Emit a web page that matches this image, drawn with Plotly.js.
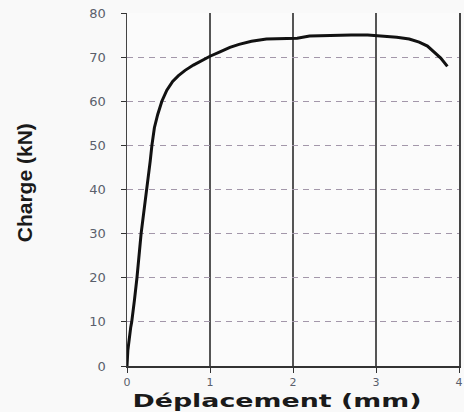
<!DOCTYPE html>
<html>
<head>
<meta charset="utf-8">
<script src="https://cdn.plot.ly/plotly-3.0.1.min.js"></script>
<style>
  html, body { margin: 0; padding: 0; background: #f9f9f9; }
  #chart { width: 464px; height: 412px; }
</style>
</head>
<body>
<div id="chart"></div>
<script>
// Data (load–displacement curve)
const deplacement = [0, 0.01, 0.045, 0.057, 0.09, 0.12, 0.17, 0.24, 0.28, 0.30, 0.33, 0.37, 0.42, 0.48, 0.55, 0.62, 0.70, 0.80, 0.90, 1.00, 1.12, 1.24, 1.35, 1.50, 1.68, 1.85, 2.05, 2.20, 2.50, 2.70, 2.90, 3.10, 3.25, 3.40, 3.52, 3.62, 3.70, 3.78, 3.86];
const charge      = [0, 3.5, 8.8, 10, 15, 20, 30, 40, 46.5, 50, 54, 57, 60, 62.5, 64.5, 65.8, 67, 68.2, 69.2, 70.2, 71.2, 72.2, 72.9, 73.6, 74.1, 74.2, 74.3, 74.8, 75, 75, 75, 74.8, 74.5, 74.1, 73.4, 72.5, 71.2, 69.8, 67.9];
const yTicks = [0, 10, 20, 30, 40, 50, 60, 70, 80];
const xTicks = [0, 1, 2, 3, 4];
const xTitle = "Déplacement (mm)";
const yTitle = "Charge (kN)";

const trace = {
  x: deplacement, y: charge, type: 'scatter', mode: 'lines',
  line: { color: '#111111', width: 3 }, hoverinfo: 'skip'
};

const layout = {
  width: 464, height: 412,
  margin: { l: 127, r: 5, t: 13, b: 46 },
  paper_bgcolor: '#f9f9f9', plot_bgcolor: '#fbfbfb',
  showlegend: false,
  xaxis: {
    range: [0, 4], tickvals: xTicks, ticktext: xTicks.map(String),
    showgrid: true, gridcolor: '#555555', gridwidth: 1.5,
    showline: true, linecolor: '#333333', linewidth: 1.5,
    zeroline: false, ticks: 'outside', ticklen: 5, tickcolor: '#333333',
    ticklabelstandoff: 0,
    tickfont: { family: 'DejaVu Sans', size: 11, color: '#5a5f6c' }
  },
  yaxis: {
    range: [0, 80], tickvals: yTicks, ticktext: yTicks.map(String),
    showgrid: true, gridcolor: '#a397aa', gridwidth: 1, griddash: '6px,5px',
    showline: true, mirror: true, linecolor: '#444444', linewidth: 1.5,
    zeroline: false, ticks: 'outside', ticklen: 5, tickcolor: '#333333',
    ticklabelstandoff: 12,
    tickfont: { family: 'DejaVu Sans', size: 13, color: '#5a5f6c' }
  },
  annotations: [
    { text: xTitle, xref: 'paper', yref: 'paper', x: 0.453, y: -0.1303,
      xanchor: 'center', yanchor: 'bottom', showarrow: false, borderpad: 0,
      font: { family: 'DejaVu Sans', size: 18, color: '#1a1a1a', weight: 'bold' } },
    { text: yTitle, xref: 'paper', yref: 'paper', x: -0.31, y: 0.518, textangle: -90,
      xanchor: 'center', yanchor: 'middle', showarrow: false,
      font: { family: 'Liberation Sans', size: 21, color: '#1a1a1a', weight: 'bold' } }
  ]
};

Plotly.newPlot('chart', [trace], layout, { staticPlot: true, displayModeBar: false }).then(function (gd) {
  const texts = gd.querySelectorAll('.annotation-text');
  texts.forEach(function (t) {
    if (t.textContent === xTitle) {
      t.setAttribute('textLength', '289');
      t.setAttribute('lengthAdjust', 'spacingAndGlyphs');
    }
  });
});
</script>
</body>
</html>
